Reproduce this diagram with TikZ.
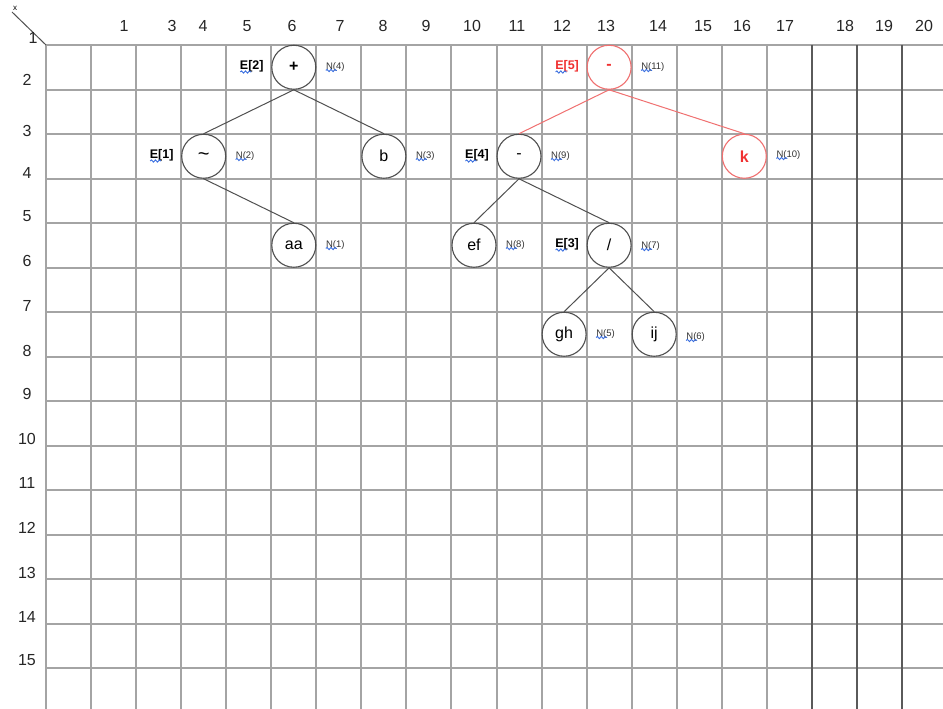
\documentclass[tikz,border=0pt]{standalone}
\usepackage{fontspec}
\setmainfont{Liberation Sans}
\usetikzlibrary{decorations.pathmorphing}
\definecolor{gridc}{HTML}{A4A4A4}
\definecolor{gridd}{HTML}{5A5A5A}
\definecolor{edgec}{HTML}{505050}
\definecolor{redc}{HTML}{F03030}
\definecolor{redl}{HTML}{F07070}
\definecolor{sq}{HTML}{3A6FE0}
\begin{document}
\begin{tikzpicture}[x=1pt,y=-1pt,
 tnode/.style={circle,draw=edgec,line width=1.1pt,minimum size=44pt,inner sep=0pt,font=\fontsize{16}{16}\selectfont},
 rnode/.style={tnode,draw=redl,text=redc,font=\fontsize{16}{16}\selectfont\bfseries},
 elab/.style={anchor=east,font=\fontsize{12.5}{12.5}\selectfont\bfseries,inner sep=0pt},
 relab/.style={elab,text=redc},
 nlab/.style={anchor=west,font=\fontsize{9.5}{9.5}\selectfont,inner sep=0pt,text=black!80},
 tedge/.style={draw=edgec,line width=1pt},
 redge/.style={draw=redl,line width=1pt},
 squig/.style={draw=sq,line width=0.9pt,decorate,decoration={snake,amplitude=1.1pt,segment length=4pt}},
 collab/.style={font=\fontsize{16}{16}\selectfont,text=black!85,inner sep=0pt},
 gline/.style={draw=gridc,line width=1.6pt},
 dline/.style={draw=gridd,line width=1.6pt},
]
\useasboundingbox (0,0) rectangle (943,709);
\fill[white] (0,0) rectangle (943,709);
% grid
\foreach \k [evaluate=\k as \yy using {int(45+44.5*\k+0.5)}] in {0,...,14} {\draw[gline] (46,\yy) -- (943,\yy);}
\foreach \k [evaluate=\k as \xx using {int(46+45.05*\k+0.5)}] in {0,...,16} {\draw[gline] (\xx,45) -- (\xx,709);}
\foreach \k [evaluate=\k as \xx using {int(46+45.05*\k+0.5)}] in {17,18,19} {\draw[dline] (\xx,45) -- (\xx,709);}
% corner
\draw[draw=edgec,line width=1pt] (12,12) -- (46,45);
\node[font=\fontsize{8}{8}\selectfont,inner sep=0pt] (cx) at (15,8) {x};
\node[collab] (r1) at (33,38) {1};
% column labels
\foreach \t/\x in {1/124,3/172,4/203,5/247,6/292,7/340,8/383,9/426,10/472,11/517,12/562,13/606,14/658,15/703,16/742,17/785,18/845,19/884,20/924}
  {\node[collab] (c\t) at (\x,26) {\t};}
% row labels
\foreach \t/\y in {2/80,3/131,4/173,5/216,6/261,7/306,8/351,9/394,10/439,11/483,12/528,13/573,14/617,15/660}
  {\node[collab] (rw\t) at (27,\y) {\t};}
% tree nodes
\node[tnode] (plus) at (293.8,67.25) {\textbf{+}};
\node[tnode] (tilde) at (203.7,156.25) {\fontsize{20}{20}\selectfont\textasciitilde};
\node[tnode] (b) at (383.9,156.25) {b};
\node[tnode] (aa) at (293.8,245.25) {aa};
\node[rnode] (rminus) at (609.1,67.25) {-};
\node[tnode] (minus) at (519.0,156.25) {-};
\node[rnode] (k) at (744.3,156.25) {k};
\node[tnode] (ef) at (474.0,245.25) {ef};
\node[tnode] (slash) at (609.1,245.25) {/};
\node[tnode] (gh) at (564.1,334.25) {gh};
\node[tnode] (ij) at (654.2,334.25) {ij};
% edges
\draw[tedge] (plus.south) -- (tilde.north);
\draw[tedge] (plus.south) -- (b.north);
\draw[tedge] (tilde.south) -- (aa.north);
\draw[redge] (rminus.south) -- (minus.north);
\draw[redge] (rminus.south) -- (k.north);
\draw[tedge] (minus.south) -- (ef.north);
\draw[tedge] (minus.south) -- (slash.north);
\draw[tedge] (slash.south) -- (gh.north);
\draw[tedge] (slash.south) -- (ij.north);
% E labels
\node[elab] (e2) at (263.8,66) {E[2]};
\node[elab] (e1) at (173.7,155) {E[1]};
\node[relab] (e5) at (579.1,66) {E[5]};
\node[elab] (e4) at (489.0,155) {E[4]};
\node[elab] (e3) at (579.1,244) {E[3]};
\foreach \e in {e1,e2,e3,e4,e5} {\draw[squig] (\e.west) ++(0.5,6) -- ++(11,0);}
% N labels
\node[nlab] (n4) at (325.8,67) {N(4)};
\node[nlab] (n2) at (235.7,156) {N(2)};
\node[nlab] (n3) at (415.9,156) {N(3)};
\node[nlab] (n1) at (325.8,245) {N(1)};
\node[nlab] (n11) at (641.1,67) {N(11)};
\node[nlab] (n9) at (551.0,156) {N(9)};
\node[nlab] (n10) at (776.3,155) {N(10)};
\node[nlab] (n8) at (506.0,245) {N(8)};
\node[nlab] (n7) at (641.1,246) {N(7)};
\node[nlab] (n5) at (596.1,334) {N(5)};
\node[nlab] (n6) at (686.2,337) {N(6)};
\foreach \n in {n1,n2,n3,n4,n5,n6,n7,n8,n9,n10,n11} {\draw[squig] (\n.west) ++(0,3.5) -- ++(11,0);}
\end{tikzpicture}
\end{document}
